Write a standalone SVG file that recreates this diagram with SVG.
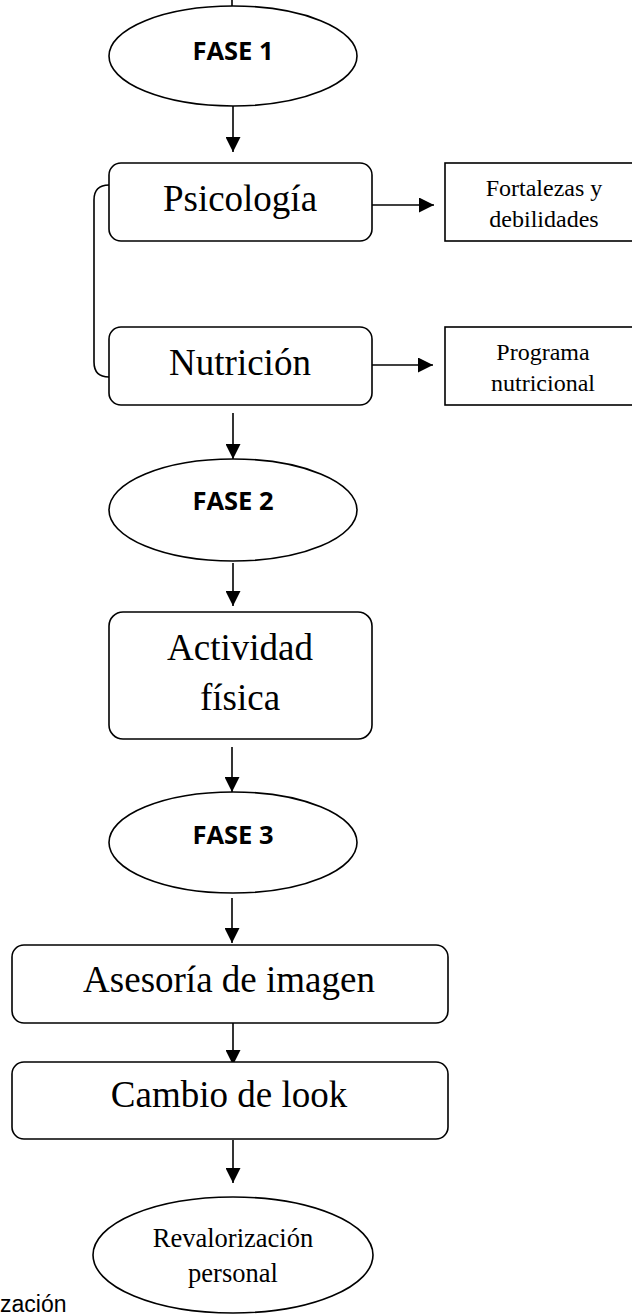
<svg xmlns="http://www.w3.org/2000/svg" width="632" height="1315" viewBox="0 0 632 1315">
  <defs>
    <marker id="arrow" markerUnits="userSpaceOnUse" markerWidth="15" markerHeight="15" refX="15" refY="7.5" orient="auto">
      <path d="M0,0 L15,7.5 L0,15 Z" fill="#000"/>
    </marker>
    <style>
      .shape { fill: #fff; stroke: #000; stroke-width: 1.6; }
      .link { fill: none; stroke: #000; stroke-width: 1.6; }
      .arr { marker-end: url(#arrow); }
      .phase { font-family: "Open Sans", "Liberation Sans", sans-serif; font-weight: 700; font-size: 25.5px; text-anchor: middle; fill: #000; }
      .big { font-family: "Liberation Serif", "Times New Roman", serif; font-size: 37px; text-anchor: middle; fill: #000; }
      .small { font-family: "Liberation Serif", "Times New Roman", serif; font-size: 24px; text-anchor: middle; fill: #000; }
      .mid { font-family: "Liberation Serif", "Times New Roman", serif; font-size: 26.5px; text-anchor: middle; fill: #000; }
      .note { font-family: "Liberation Sans", Arial, sans-serif; font-size: 23px; fill: #000; }
    </style>
  </defs>
  <rect width="632" height="1315" fill="#fff"/>

  <!-- connectors -->
  <g id="connectors">
    <line class="link" x1="232" y1="0" x2="232" y2="6"/>
    <path class="link arr" d="M233,106 V152"/>
    <path class="link" d="M109,185 Q94,185 94,200 V362 Q94,377 109,377"/>
    <path class="link arr" d="M372,205 H434"/>
    <path class="link arr" d="M372,365 H433"/>
    <path class="link arr" d="M233,413 V459"/>
    <path class="link arr" d="M233,563 V606"/>
    <path class="link arr" d="M232,747 V792"/>
    <path class="link arr" d="M232,898 V943"/>
    <path class="link arr" d="M233,1023 V1065"/>
    <path class="link arr" d="M233,1140 V1183"/>
  </g>

  <g id="fase1">
    <ellipse class="shape" cx="233" cy="56" rx="124" ry="50"/>
    <text class="phase" x="233" y="60">FASE 1</text>
  </g>

  <g id="psicologia">
    <rect class="shape" x="109" y="163" width="263" height="78" rx="12"/>
    <text class="big" x="240" y="211">Psicología</text>
  </g>

  <g id="fortalezas">
    <rect class="shape" x="445" y="163" width="200" height="78"/>
    <text class="small" x="544" y="196">Fortalezas y</text>
    <text class="small" x="544" y="227">debilidades</text>
  </g>

  <g id="nutricion">
    <rect class="shape" x="109" y="327" width="263" height="78" rx="12"/>
    <text class="big" x="240" y="375">Nutrición</text>
  </g>

  <g id="programa">
    <rect class="shape" x="445" y="327" width="200" height="78"/>
    <text class="small" x="543" y="360">Programa</text>
    <text class="small" x="543" y="391">nutricional</text>
  </g>

  <g id="fase2">
    <ellipse class="shape" cx="233" cy="510" rx="124" ry="51"/>
    <text class="phase" x="233" y="510">FASE 2</text>
  </g>

  <g id="actividad">
    <rect class="shape" x="109" y="612" width="263" height="127" rx="14"/>
    <text class="big" x="240" y="660">Actividad</text>
    <text class="big" x="240" y="710">física</text>
  </g>

  <g id="fase3">
    <ellipse class="shape" cx="233" cy="842.5" rx="124" ry="50.5"/>
    <text class="phase" x="233" y="844">FASE 3</text>
  </g>

  <g id="asesoria">
    <rect class="shape" x="12" y="945" width="436" height="78" rx="12"/>
    <text class="big" x="229" y="992">Asesoría de imagen</text>
  </g>

  <g id="cambio">
    <rect class="shape" x="12" y="1062" width="436" height="77" rx="12"/>
    <text class="big" x="229" y="1107">Cambio de look</text>
  </g>

  <g id="revalorizacion">
    <ellipse class="shape" cx="233" cy="1255" rx="140" ry="58"/>
    <text class="mid" x="233" y="1247">Revalorización</text>
    <text class="mid" x="233" y="1282">personal</text>
  </g>

  <text class="note" x="0" y="1312">zación</text>
</svg>
